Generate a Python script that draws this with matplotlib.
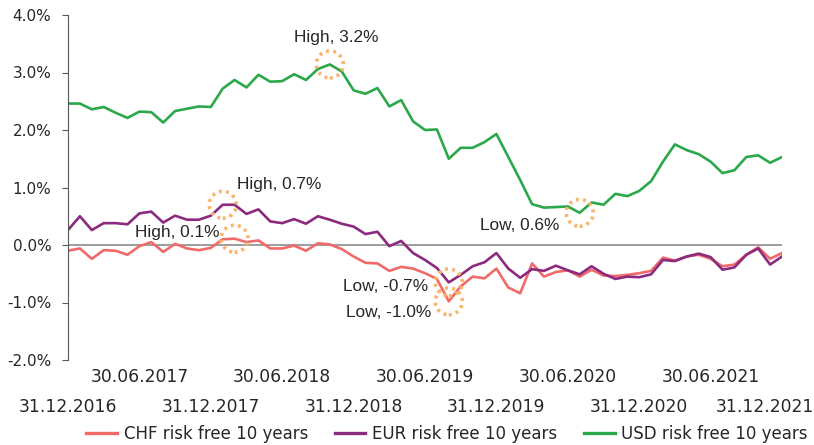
import numpy as np
import matplotlib
matplotlib.use("Agg")
import matplotlib.pyplot as plt
from matplotlib.patches import Ellipse
from matplotlib.transforms import ScaledTranslation

# monthly values, 31.12.2016 .. 31.12.2021 (in %)
chf = [-0.10, -0.06, -0.24, -0.09, -0.10, -0.17, -0.02, 0.05, -0.12, 0.02,
       -0.06, -0.09, -0.05, 0.10, 0.11, 0.05, 0.08, -0.06, -0.06, -0.01,
       -0.10, 0.03, 0.01, -0.07, -0.20, -0.31, -0.32, -0.45, -0.38, -0.41,
       -0.49, -0.59, -0.98, -0.72, -0.55, -0.58, -0.41, -0.74, -0.84, -0.32,
       -0.55, -0.47, -0.44, -0.55, -0.43, -0.53, -0.54, -0.52, -0.49, -0.45,
       -0.22, -0.27, -0.20, -0.17, -0.24, -0.37, -0.34, -0.17, -0.04, -0.24,
       -0.14]
eur = [0.26, 0.50, 0.26, 0.38, 0.38, 0.36, 0.55, 0.58, 0.39, 0.51,
       0.44, 0.44, 0.51, 0.70, 0.70, 0.54, 0.62, 0.41, 0.38, 0.45,
       0.37, 0.50, 0.44, 0.37, 0.32, 0.19, 0.23, -0.02, 0.07, -0.14,
       -0.26, -0.40, -0.65, -0.52, -0.37, -0.30, -0.14, -0.41, -0.57, -0.42,
       -0.45, -0.36, -0.44, -0.51, -0.37, -0.50, -0.59, -0.55, -0.56, -0.51,
       -0.26, -0.28, -0.20, -0.15, -0.21, -0.43, -0.39, -0.17, -0.06, -0.34,
       -0.20]
usd = [2.46, 2.46, 2.36, 2.40, 2.30, 2.21, 2.32, 2.31, 2.13, 2.33,
       2.37, 2.41, 2.40, 2.72, 2.87, 2.74, 2.96, 2.84, 2.85, 2.97,
       2.87, 3.06, 3.14, 3.02, 2.69, 2.63, 2.73, 2.41, 2.52, 2.15,
       2.00, 2.01, 1.50, 1.69, 1.69, 1.79, 1.93, 1.53, 1.13, 0.71,
       0.65, 0.66, 0.67, 0.56, 0.74, 0.70, 0.89, 0.85, 0.94, 1.11,
       1.45, 1.75, 1.65, 1.58, 1.45, 1.25, 1.30, 1.53, 1.56, 1.43,
       1.53]

names = ["CHF risk free 10 years", "EUR risk free 10 years", "USD risk free 10 years"]
colors = ["#F06A6A", "#8B2A7E", "#2BA84A"]

dec_labels = ["31.12.2016", "31.12.2017", "31.12.2018", "31.12.2019", "31.12.2020", "31.12.2021"]
jun_labels = ["30.06.2017", "30.06.2018", "30.06.2019", "30.06.2020", "30.06.2021"]

W, H = 814, 445
fig = plt.figure(figsize=(W / 100, H / 100), dpi=100)
left, right, bottom, top = 68 / W, 782 / W, 1 - 360 / H, 1 - 15 / H
ax = fig.add_axes([left, bottom, right - left, top - bottom])

x = np.arange(len(usd))
series = [chf, eur, usd]
for vals, name, c in zip(series, names, colors):
    ax.plot(x, vals, color=c, lw=1.9, label=name, solid_joinstyle="round")

ax.axhline(0, color="#8c8c8c", lw=1.2, zorder=1)

ax.set_xlim(0, len(usd) - 1)
ax.set_ylim(-2, 4)
ax.set_yticks(np.arange(-2, 5, 1))
ax.set_yticklabels([f"{v:.1f}%" for v in np.arange(-2, 5, 1)])

for s in ["top", "right", "bottom"]:
    ax.spines[s].set_visible(False)
ax.spines["left"].set_color("#595959")
ax.tick_params(axis="y", length=4, color="#595959", pad=8, labelsize=11,
               labelcolor="#262626")

# x ticks: december labels on second row, june labels on first row
ax.set_xticks(x[::12])
ax.set_xticklabels(dec_labels)
ax.set_xticks(x[6::12], minor=True)
ax.set_xticklabels(jun_labels, minor=True)
ax.tick_params(axis="x", which="major", length=0, pad=27, labelsize=12.3, labelcolor="#262626")
ax.tick_params(axis="x", which="minor", length=0, pad=6, labelsize=12.3, labelcolor="#262626")
last = ax.get_xticklabels()[-1]
last.set_transform(last.get_transform() + ScaledTranslation(-17 / 100, 0, fig.dpi_scale_trans))

# dotted circles at highs / lows
px_x = (right - left) * W / (len(usd) - 1)
px_y = (top - bottom) * H / 6
r = 13.5
notes = [
    (usd, "max", "High, 3.2%", (6, 27), "center"),
    (eur, "max", "High, 0.7%", (14, 20), "left"),
    (chf, "max", "High, 0.1%", (-15, 6), "right"),
    (usd, "min", "Low, 0.6%", (-20, -13), "right"),
    (eur, "min", "Low, -0.7%", (-21, -4), "right"),
    (chf, "min", "Low, -1.0%", (-18, -11), "right"),
]
for vals, kind, txt, off, ha in notes:
    i = int(np.argmax(vals)) if kind == "max" else int(np.argmin(vals))
    ax.add_patch(Ellipse((i, vals[i]), 2 * r / px_x, 2 * r / px_y, fill=False,
                         ec="#F9B36A", lw=2.6, ls=(0, (0.8, 1.2)), zorder=5))
    ax.annotate(txt, (i, vals[i]), xytext=off, textcoords="offset pixels",
                ha=ha, va="center", fontsize=12.4, family="Liberation Sans",
                color="#262626")

fig.legend(loc="center", bbox_to_anchor=(447 / W, 1 - 434 / H), ncol=3,
           frameon=False, fontsize=12, handlelength=1.85, handletextpad=0.4,
           columnspacing=1.6, labelcolor="#262626")
for l in fig.legends[0].get_lines():
    l.set_linewidth(2.4)

fig.savefig("out.png", dpi=100)
